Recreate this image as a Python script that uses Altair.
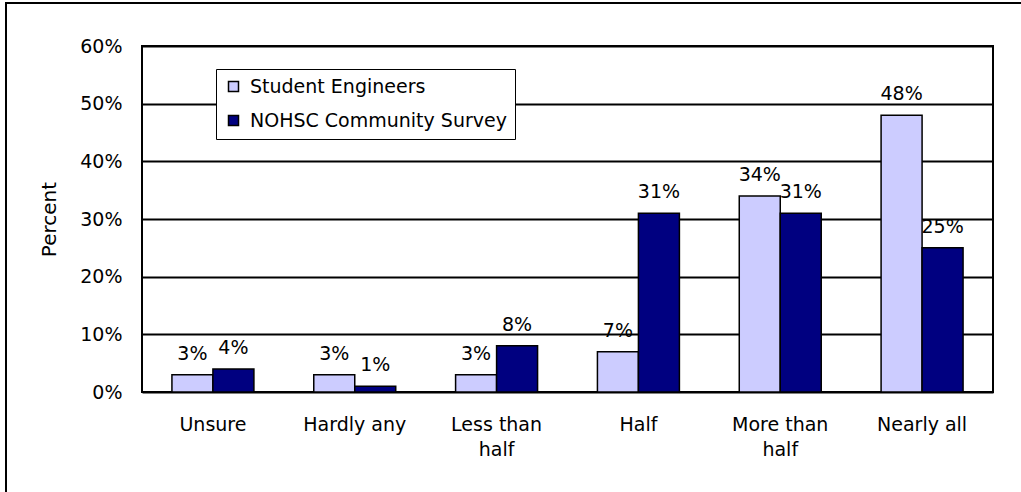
import altair as alt
import pandas as pd

categories = ["Unsure", "Hardly any", "Less than half", "Half", "More than half", "Nearly all"]
series = ["Student Engineers", "NOHSC Community Survey"]
student = [3, 3, 3, 7, 34, 48]
nohsc = [4, 1, 8, 31, 31, 25]
colors = ["#CCCCFF", "#000080"]
y_ticks = [0, 0.1, 0.2, 0.3, 0.4, 0.5, 0.6]

rows = []
for c, s, n in zip(categories, student, nohsc):
    rows.append({"cat": c, "series": series[0], "value": s / 100})
    rows.append({"cat": c, "series": series[1], "value": n / 100})
df = pd.DataFrame(rows)

FONT = "DejaVu Sans"

x = alt.X(
    "cat:N",
    sort=categories,
    scale=alt.Scale(paddingInner=0.422, paddingOuter=0.211),
    axis=alt.Axis(
        title=None, labelAngle=0, ticks=False, tickSize=0, domain=False,
        labelPadding=23, labelFontSize=19, labelFont=FONT, labelColor="black",
        labelLineHeight=25, labelBaseline="top",
        labelExpr="indexof(datum.label, ' than half') > 0 ? [replace(datum.label, ' half', ''), 'half'] : datum.label",
    ),
)
y = alt.Y(
    "value:Q",
    scale=alt.Scale(domain=[0, 0.6], nice=False),
    axis=alt.Axis(
        format=".0%", values=y_ticks, title="Percent", grid=True,
        gridColor="black", gridWidth=1.8, gridOpacity=1, ticks=False, tickSize=0,
        domain=False, labelPadding=20, labelFontSize=19, labelFont=FONT,
        labelColor="black", titleFontSize=20, titleFont=FONT,
        titleFontWeight="normal", titleColor="black", titleX=-93, titleY=173,
        titleAngle=270, titleAlign="center", titleBaseline="middle",
    ),
)
xo = alt.XOffset("series:N", sort=series)

bars = alt.Chart(df).mark_bar(stroke="black", strokeWidth=1.5).encode(
    x=x,
    xOffset=xo,
    y=y,
    color=alt.Color(
        "series:N",
        sort=series,
        scale=alt.Scale(domain=series, range=colors),
        legend=alt.Legend(
            title=None, orient="none", legendX=74, legendY=23,
            direction="vertical", symbolType="square", symbolSize=100,
            symbolStrokeColor="black", symbolStrokeWidth=1.5,
            labelFontSize=19, labelFont=FONT, labelColor="black",
            labelLimit=600, labelOffset=7, padding=8, rowPadding=14,
            strokeColor="black", fillColor="white",
        ),
    ),
)

labels = alt.Chart(df).mark_text(
    baseline="bottom", dy=-11, fontSize=19, font=FONT, color="black"
).encode(
    x=x,
    xOffset=xo,
    y=y,
    text=alt.Text("value:Q", format=".0%"),
)

one = pd.DataFrame({"k": [0]})
frame_top = alt.Chart(one).mark_rule(color="black", strokeWidth=2).encode(
    x=alt.value(-136), x2=alt.value(879), y=alt.value(-43)
)
frame_left = alt.Chart(one).mark_rule(color="black", strokeWidth=2).encode(
    x=alt.value(-136), y=alt.value(-44), y2=alt.value(446)
)

chart = (
    alt.layer(frame_top, frame_left, bars, labels)
    .properties(
        width=851,
        height=346,
        padding={"left": 142, "top": 46, "right": 28, "bottom": 100},
        autosize=alt.AutoSizeParams(type="none"),
        background="white",
    )
    .configure(font=FONT)
    .configure_view(stroke="black", strokeWidth=2)
)

chart.save("out.html", embed_options={"renderer": "svg", "actions": False})
